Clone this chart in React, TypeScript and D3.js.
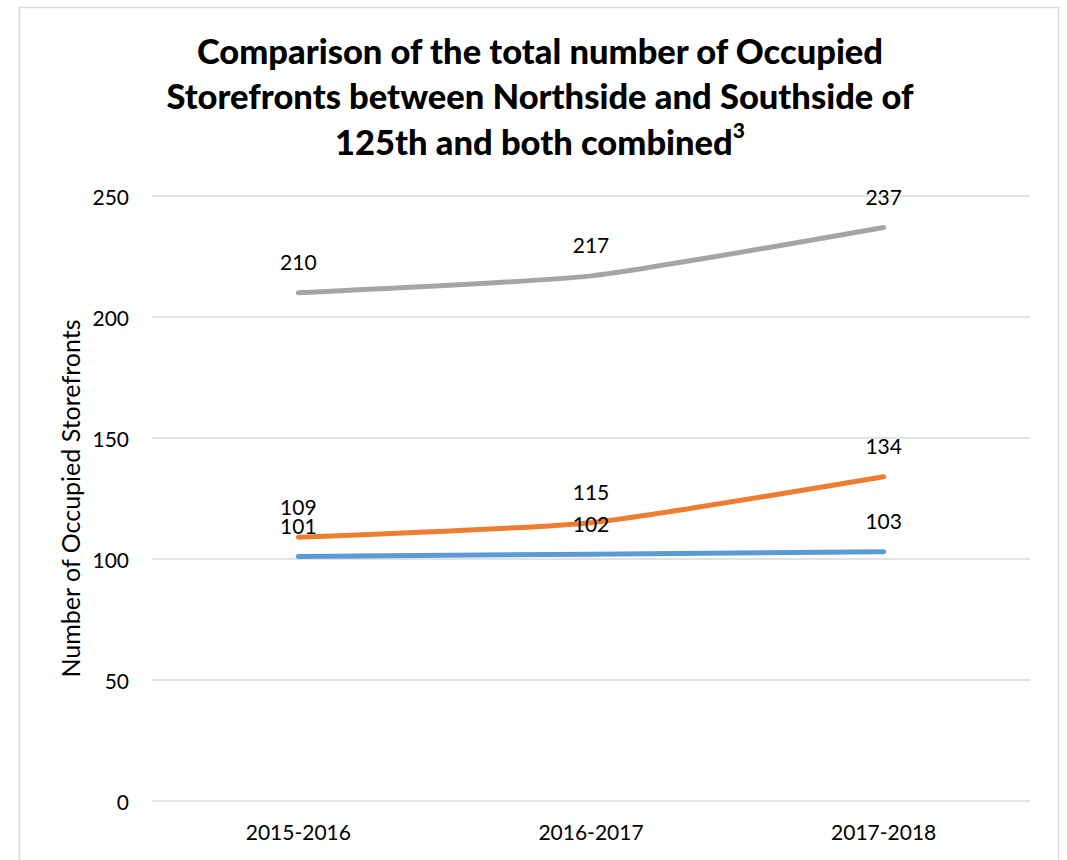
import React from "react";
import * as d3 from "d3";

const categories = ["2015-2016", "2016-2017", "2017-2018"];
const seriesBlue = [101, 102, 103];
const seriesOrange = [109, 115, 134];
const seriesGray = [210, 217, 237];
const yTicks = [0, 50, 100, 150, 200, 250];
const titleLines = [
  "Comparison of the total number of Occupied",
  "Storefronts between Northside and Southside of",
  "125th and both combined",
];
const yAxisTitle = "Number of Occupied Storefronts";

const FONT = "Lato, 'Open Sans', sans-serif";

export default function App() {
  const W = 1067;
  const H = 860;
  const x = d3.scaleBand<string>().domain(categories).range([152, 1030]).padding(0);
  const cx = (c: string) => (x(c) as number) + x.bandwidth() / 2;
  const y = d3.scaleLinear().domain([0, 250]).range([801, 196]);

  const series = [
    { values: seriesGray, color: "#A5A5A5" },
    { values: seriesOrange, color: "#ED7D31" },
    { values: seriesBlue, color: "#5B9BD5" },
  ];

  const line = d3
    .line<number>()
    .x((_, i) => cx(categories[i]))
    .y((d) => y(d))
    .curve(d3.curveCardinal.tension(0.5));

  const labelSize = 21;

  return (
    <svg
      width={W}
      height={H}
      style={{ position: "absolute", left: 0, top: 0, background: "#fff" }}
      fontFamily={FONT}
    >
      <rect x={19.5} y={7.5} width={1039} height={900} fill="#fff" stroke="#D9D9D9" strokeWidth={1.5} />
      {titleLines.map((t, i) => (
        <text
          key={i}
          x={540}
          y={50 + i * 45.5}
          textAnchor="middle"
          dominantBaseline="central"
          fontSize={34.5}
          fontWeight={900}
          fill="#000"
        >
          {t}
          {i === 2 ? (
            <tspan fontSize={21} dy={-12}>3</tspan>
          ) : null}
        </text>
      ))}
      {yTicks.map((t) => (
        <g key={t}>
          <line x1={152} x2={1030} y1={y(t)} y2={y(t)} stroke="#D9D9D9" strokeWidth={1.5} />
          <text x={129} y={y(t)} textAnchor="end" dominantBaseline="central" fontSize={labelSize} fill="#000">
            {t}
          </text>
        </g>
      ))}
      {categories.map((c) => (
        <text key={c} x={cx(c)} y={831} textAnchor="middle" dominantBaseline="central" fontSize={labelSize} fill="#000">
          {c}
        </text>
      ))}
      <text
        transform={`translate(70,${(y(0) + y(250)) / 2}) rotate(-90)`}
        textAnchor="middle"
        dominantBaseline="central"
        fontSize={25}
        fill="#000"
      >
        {yAxisTitle}
      </text>
      {series.map((s, si) => (
        <path
          key={si}
          d={line(s.values) || ""}
          fill="none"
          stroke={s.color}
          strokeWidth={5}
          strokeLinecap="round"
          strokeLinejoin="round"
        />
      ))}
      {series.map((s, si) =>
        s.values.map((v, i) => (
          <text
            key={`${si}-${i}`}
            x={cx(categories[i])}
            y={y(v) - 31}
            textAnchor="middle"
            dominantBaseline="central"
            fontSize={labelSize}
            fill="#000"
          >
            {v}
          </text>
        ))
      )}
    </svg>
  );
}
